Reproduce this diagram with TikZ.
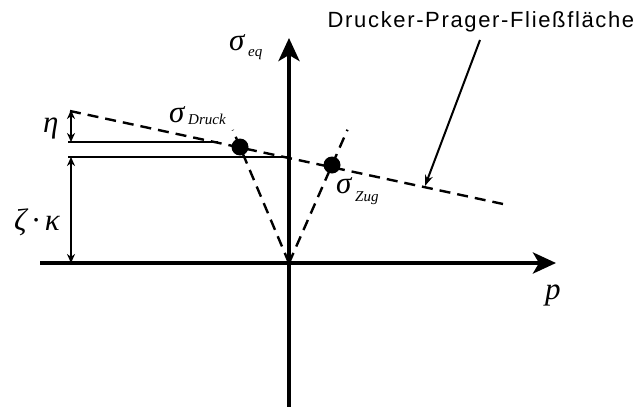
\documentclass[tikz,border=0pt]{standalone}
\usepackage{fontspec}
\newfontfamily\labelfont[LetterSpace=7.5]{Liberation Sans}
\newfontfamily\symfont{Liberation Serif}
\usetikzlibrary{arrows.meta,calc}
\tikzset{
  axis/.style={line width=4pt, -{Stealth[length=23pt,width=21pt,inset=6pt]}},
  surface/.style={line width=2.4pt, dash pattern=on 11pt off 7pt},
  level/.style={line width=2.2pt},
  dimline/.style={line width=2pt, {Stealth[length=9pt,width=8pt]}-{Stealth[length=9pt,width=8pt]}},
  pointer/.style={line width=2pt, -{Stealth[length=11pt,width=8pt]}},
  point/.style={fill,shape=circle,minimum size=17pt,inner sep=0pt},
  symlabel/.style={font=\symfont\itshape\fontsize{31}{33}\selectfont, inner sep=0pt, anchor=base west},
  sublabel/.style={font=\symfont\itshape\fontsize{15}{17}\selectfont},
}

\begin{document}
\begin{tikzpicture}[x=1pt,y=-1pt]
\useasboundingbox (0,0) rectangle (638,407);

\coordinate (origin) at (289,263);
\coordinate (pstart) at (40,263);
\coordinate (pend)   at (556,263);
\coordinate (qstart) at (289,407);
\coordinate (qend)   at (289,38);

\coordinate (surfstart) at (70,111);
\coordinate (surfend)   at (503,204);
\coordinate (etatop)    at (71,110);
\coordinate (etabot)    at (71,142);
\coordinate (etaline)   at (68,142);
\coordinate (etaend)    at (218,142);
\coordinate (zkline)    at (68,157);
\coordinate (zkend)     at (289,157);
\coordinate (zktop)     at (71,157);
\coordinate (zkbot)     at (71,263);

\node[point] at (240,147) (druck) {};
\node[point] at (332,165) (zug)   {};

\node[anchor=base] at (481,27) (title) {\labelfont\fontsize{22}{24}\selectfont Drucker-Prager-Flie\ss fl\"ache};
\coordinate (titletip) at (480,40);
\coordinate (surfmark) at (425,186);

\node[symlabel] at (229,50)  (seq)    {σ};
\node[sublabel,anchor=base west] at (seq.base east) [yshift=-6pt] (seqsub) {eq};
\node[symlabel] at (169,122) (sdruck) {σ};
\node[sublabel,anchor=base west] at (sdruck.base east) [yshift=-2pt] (sdrucksub) {Druck};
\node[symlabel] at (336,193) (szug)   {σ};
\node[sublabel,anchor=base west] at (szug.base east) [yshift=-8pt] (szugsub) {Zug};
\node[symlabel] at (545,299) (plabel) {p};
\node[symlabel] at (43,132)  (eta)    {η};
\node[symlabel] at (14,230)  (zk)     {ζ\,·\,κ};

% axes
\draw[axis] (pstart) -- (pend);
\draw[axis] (qstart) -- (qend);

% surface and the two cone lines
\draw[surface] (surfstart) -- (surfend);
\draw[surface] (origin) -- ($(origin)!1.147!(druck)$);
\draw[surface] (origin) -- ($(origin)!1.36!(zug)$);

% levels with dimensions
\draw[level] (etaline) -- (etaend);
\draw[level] (zkline) -- (zkend);
\draw[dimline] (etatop) -- (etabot);
\draw[dimline] (zktop) -- (zkbot);

\draw[pointer] (titletip) -- (surfmark);
\end{tikzpicture}
\end{document}
